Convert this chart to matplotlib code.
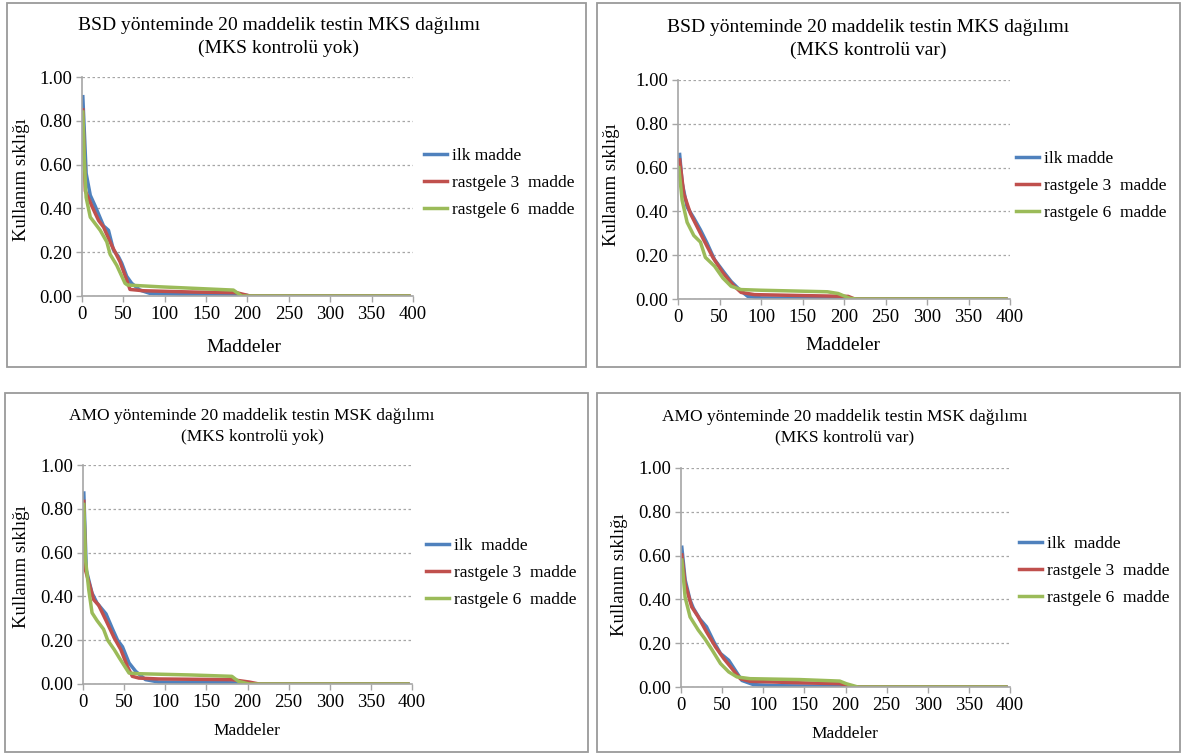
import matplotlib
matplotlib.use("Agg")
import matplotlib.pyplot as plt
from matplotlib.patches import Rectangle

plt.rcParams['font.family'] = ['Liberation Serif', 'DejaVu Serif']

# --- data (item rank vs. usage frequency) ---
series_labels = ["ilk madde", "rastgele 3  madde", "rastgele 6  madde"]
series_colors = ["#4F81BD", "#C0504D", "#9BBB59"]
x_ticks = [0, 50, 100, 150, 200, 250, 300, 350, 400]
y_ticks = [0.0, 0.2, 0.4, 0.6, 0.8, 1.0]

# BSD, MKS kontrolü yok
bsd_yok_ilk_x = [1, 5, 10, 16, 26, 32, 38, 44, 48, 54, 60, 70, 82, 135, 199, 203, 395]
bsd_yok_ilk_y = [0.91, 0.56, 0.46, 0.41, 0.32, 0.30, 0.21, 0.18, 0.15, 0.09, 0.058, 0.027, 0.012, 0.006, 0.003, 0.0, 0.0]
bsd_yok_r3_x = [1, 4, 12, 20, 26, 36, 46, 54, 58, 74, 135, 187, 203, 395]
bsd_yok_r3_y = [0.85, 0.48, 0.41, 0.345, 0.315, 0.23, 0.156, 0.073, 0.03, 0.024, 0.018, 0.015, 0.0, 0.0]
bsd_yok_r6_x = [1, 3, 5, 10, 22, 30, 34, 42, 52, 55, 94, 183, 193, 395]
bsd_yok_r6_y = [0.84, 0.60, 0.45, 0.36, 0.30, 0.247, 0.19, 0.14, 0.058, 0.05, 0.042, 0.027, 0.0, 0.0]

# BSD, MKS kontrolü var
bsd_var_ilk_x = [2, 5, 11, 19, 27, 35, 44, 56, 64, 74, 84, 100, 200, 208, 395]
bsd_var_ilk_y = [0.66, 0.53, 0.42, 0.37, 0.316, 0.255, 0.18, 0.119, 0.08, 0.043, 0.012, 0.005, 0.002, 0.0, 0.0]
bsd_var_r3_x = [2, 7, 15, 23, 31, 42, 54, 66, 76, 92, 160, 205, 213, 395]
bsd_var_r3_y = [0.635, 0.48, 0.39, 0.33, 0.27, 0.19, 0.12, 0.065, 0.03, 0.02, 0.015, 0.012, 0.0, 0.0]
bsd_var_r6_x = [1, 5, 11, 19, 27, 33, 44, 54, 64, 76, 100, 180, 193, 207, 215, 395]
bsd_var_r6_y = [0.60, 0.45, 0.35, 0.29, 0.26, 0.19, 0.15, 0.096, 0.058, 0.043, 0.04, 0.033, 0.025, 0.003, 0.0, 0.0]

# AMO, MKS kontrolü yok
amo_yok_ilk_x = [1, 4, 11, 17, 28, 36, 42, 48, 56, 64, 76, 92, 194, 200, 395]
amo_yok_ilk_y = [0.872, 0.52, 0.415, 0.37, 0.32, 0.25, 0.20, 0.17, 0.096, 0.058, 0.02, 0.009, 0.005, 0.0, 0.0]
amo_yok_r3_x = [1, 3, 13, 19, 28, 38, 46, 54, 60, 68, 92, 181, 202, 214, 395]
amo_yok_r3_y = [0.834, 0.52, 0.385, 0.36, 0.29, 0.21, 0.157, 0.08, 0.035, 0.027, 0.023, 0.02, 0.009, 0.0, 0.0]
amo_yok_r6_x = [1, 3, 7, 11, 17, 25, 30, 38, 44, 52, 56, 68, 133, 181, 189, 202, 395]
amo_yok_r6_y = [0.82, 0.57, 0.43, 0.325, 0.29, 0.25, 0.20, 0.157, 0.12, 0.073, 0.05, 0.047, 0.041, 0.035, 0.012, 0.0, 0.0]

# AMO, MKS kontrolü var
amo_var_ilk_x = [1, 5, 11, 15, 23, 31, 40, 48, 58, 66, 74, 88, 116, 197, 205, 395]
amo_var_ilk_y = [0.638, 0.49, 0.397, 0.36, 0.31, 0.275, 0.206, 0.153, 0.122, 0.076, 0.03, 0.011, 0.006, 0.003, 0.0, 0.0]
amo_var_r3_x = [1, 5, 13, 21, 31, 42, 52, 62, 72, 84, 136, 193, 205, 212, 395]
amo_var_r3_y = [0.603, 0.473, 0.366, 0.32, 0.252, 0.183, 0.13, 0.084, 0.038, 0.026, 0.02, 0.015, 0.006, 0.0, 0.0]
amo_var_r6_x = [1, 5, 11, 21, 29, 38, 48, 58, 68, 84, 144, 193, 201, 215, 395]
amo_var_r6_y = [0.58, 0.41, 0.32, 0.26, 0.22, 0.168, 0.107, 0.069, 0.046, 0.038, 0.034, 0.027, 0.015, 0.0, 0.0]

W, H = 1182, 755
fig = plt.figure(figsize=(W / 100, H / 100), dpi=100)
fig.patch.set_facecolor("white")


def px(x0, y0, x1, y1):
    # pixel box (top-left origin) -> figure fraction [left, bottom, width, height]
    return [x0 / W, 1 - y1 / H, (x1 - x0) / W, (y1 - y0) / H]


panels = [
    dict(box=(7, 3, 586, 367), ax=(82, 77, 413, 296),
         title="BSD yönteminde 20 maddelik testin MKS dağılımı\n(MKS kontrolü yok)",
         title_xy=(279, 17), title_fs=14, ylab_xy=(22, 180), xlab_xy=(244, 347), xlab_fs=14,
         leg_y=183, leg_x=424,
         series=[(bsd_yok_ilk_x, bsd_yok_ilk_y), (bsd_yok_r3_x, bsd_yok_r3_y), (bsd_yok_r6_x, bsd_yok_r6_y)]),
    dict(box=(597, 3, 1180, 367), ax=(678, 80, 1010, 299),
         title="BSD yönteminde 20 maddelik testin MKS dağılımı\n(MKS kontrolü var)",
         title_xy=(868, 19), title_fs=14, ylab_xy=(612, 185), xlab_xy=(843, 345), xlab_fs=14,
         leg_y=186, leg_x=1016,
         series=[(bsd_var_ilk_x, bsd_var_ilk_y), (bsd_var_r3_x, bsd_var_r3_y), (bsd_var_r6_x, bsd_var_r6_y)]),
    dict(box=(5, 393, 588, 752), ax=(83, 465, 412, 684),
         title="AMO yönteminde 20 maddelik testin MSK dağılımı\n(MKS kontrolü yok)",
         title_xy=(252, 408), title_fs=12.5, ylab_xy=(22, 567), xlab_xy=(247, 731), xlab_fs=12.5,
         leg_y=573, leg_x=426,
         series=[(amo_yok_ilk_x, amo_yok_ilk_y), (amo_yok_r3_x, amo_yok_r3_y), (amo_yok_r6_x, amo_yok_r6_y)]),
    dict(box=(597, 393, 1180, 752), ax=(681, 468, 1010, 687),
         title="AMO yönteminde 20 maddelik testin MSK dağılımı\n(MKS kontrolü var)",
         title_xy=(845, 409), title_fs=12.5, ylab_xy=(619, 575), xlab_xy=(845, 734), xlab_fs=12.5,
         leg_y=571, leg_x=1019,
         series=[(amo_var_ilk_x, amo_var_ilk_y), (amo_var_r3_x, amo_var_r3_y), (amo_var_r6_x, amo_var_r6_y)]),
]

grey = "#A6A6A6"
for i, p in enumerate(panels):
    bx0, by0, bx1, by1 = p["box"]
    fig.patches.append(Rectangle((bx0 / W, 1 - by1 / H), (bx1 - bx0) / W, (by1 - by0) / H,
                                 transform=fig.transFigure, fill=False,
                                 edgecolor="#9A9A9A", linewidth=1.3))

    ax = fig.add_axes(px(*p["ax"]))
    for (xs, ys), lab, col in zip(p["series"], series_labels, series_colors):
        if i >= 2 and lab == "ilk madde":
            lab = "ilk  madde"
        ax.plot(xs, ys, color=col, linewidth=2.5, label=lab, solid_joinstyle="round")

    ax.set_xlim(0, 400)
    ax.set_ylim(0, 1.0)
    ax.set_xticks(x_ticks)
    ax.set_yticks(y_ticks)
    ax.set_yticklabels([f"{v:.2f}" for v in y_ticks])
    ax.grid(axis="y", color=grey, linestyle=(0, (2, 2)), linewidth=0.9)
    ax.set_axisbelow(True)
    for s in ["top", "right"]:
        ax.spines[s].set_visible(False)
    for s in ["left", "bottom"]:
        ax.spines[s].set_color(grey)
        ax.spines[s].set_linewidth(1.2)
    ax.tick_params(colors=grey, length=4, width=1, labelcolor="black", labelsize=13.5, pad=3)

    fig.text(p["title_xy"][0] / W, 1 - p["title_xy"][1] / H, p["title"], ha="center", va="top",
             fontsize=p["title_fs"], linespacing=1.4)
    fig.text(p["ylab_xy"][0] / W, 1 - p["ylab_xy"][1] / H, "Kullanım sıklığı", rotation=90,
             ha="center", va="center", fontsize=13.5)
    fig.text(p["xlab_xy"][0] / W, 1 - p["xlab_xy"][1] / H, "Maddeler", ha="center", va="center",
             fontsize=p["xlab_fs"])

    ax_x0, ax_y0, ax_x1, ax_y1 = p["ax"]
    ax.legend(loc="center left", frameon=False, fontsize=12.5,
              bbox_to_anchor=((p["leg_x"] - ax_x0) / (ax_x1 - ax_x0), (ax_y1 - p["leg_y"]) / (ax_y1 - ax_y0)),
              handlelength=1.3, handletextpad=0.3, labelspacing=0.62, borderaxespad=0, borderpad=0)

fig.savefig("out.png", dpi=100)
